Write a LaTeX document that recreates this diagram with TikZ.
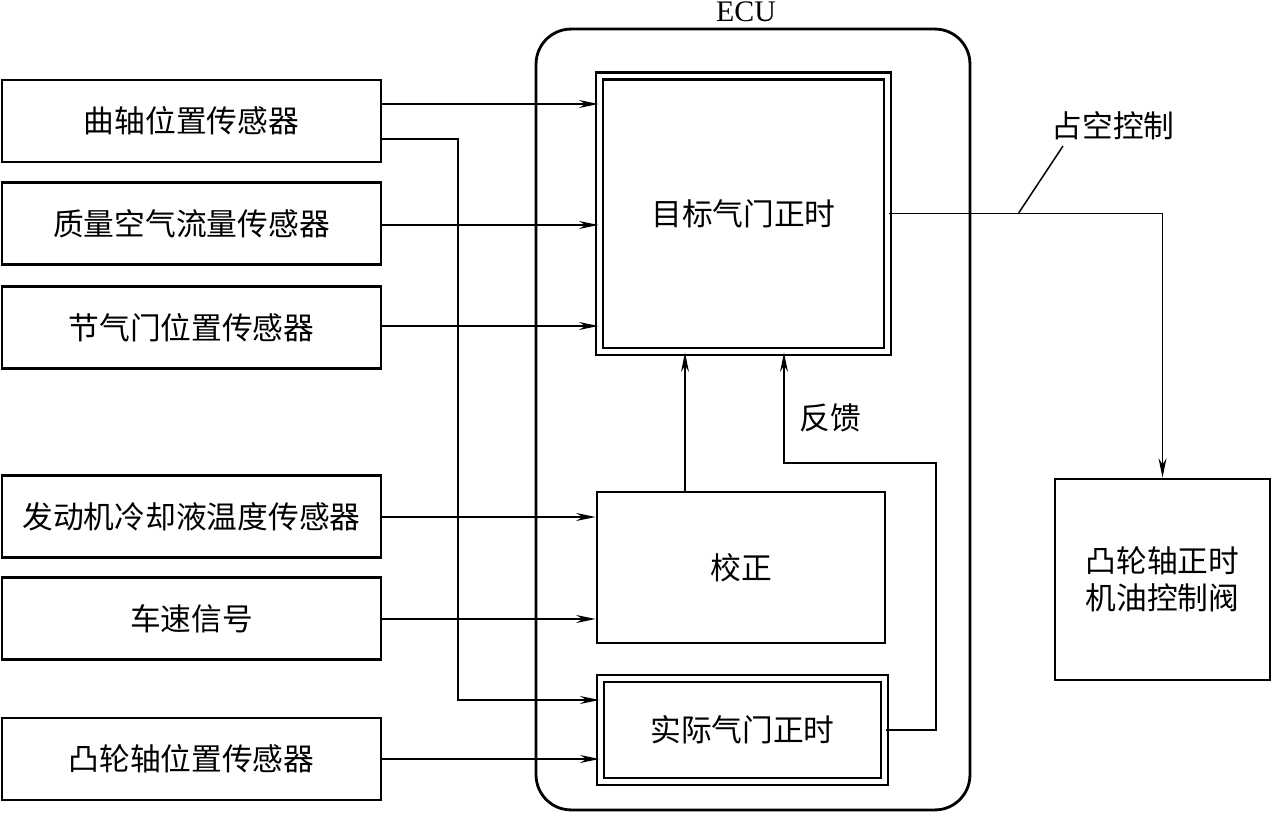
\documentclass[tikz,border=0pt]{standalone}
\usepackage{fontspec}
\newfontfamily\cjk{Noto Sans CJK SC}
\newfontfamily\serif{Liberation Serif}
\usetikzlibrary{arrows.meta}
\tikzset{
	sensor/.style={draw, line width=1.6pt, minimum width=7.58cm, minimum height=1.64cm, font=\cjk\fontsize{17.5}{21}\selectfont},
	unit/.style={draw, line width=1.6pt, font=\cjk\fontsize{17.5}{21}\selectfont, align=center},
	dbl/.style={unit, line width=1.3pt, double, double distance=2.7pt},
	sig/.style={->, line width=0.85pt}
}
\begin{document}
\begin{tikzpicture}[x=0.02cm, y=-0.02cm, >={Stealth[length=11pt,width=4.5pt]}]
		\useasboundingbox (0,0) rectangle (1272,813);
		% ECU
		\node[draw, line width=1.6pt, rounded corners=0.7cm, minimum width=8.68cm, minimum height=15.62cm] (ecu) at (753,419.5) {};
		\node[font=\serif\fontsize{17}{19}\selectfont] (ecul) at (746,12) {ECU};
		
		\node[sensor] (s1) at (191.5,121) {曲轴位置传感器};
		\node[sensor] (s2) at (191.5,223.5) {质量空气流量传感器};
		\node[sensor] (s3) at (191.5,327.5) {节气门位置传感器};
		\node[sensor] (s4) at (191.5,516.5) {发动机冷却液温度传感器};
		\node[sensor] (s5) at (191.5,618.5) {车速信号};
		\node[sensor] (s6) at (191.5,759) {凸轮轴位置传感器};
		
		\node[dbl, minimum width=5.76cm, minimum height=5.51cm] (tgt) at (743.5,213.75) {目标气门正时};
		\node[unit, minimum width=5.76cm, minimum height=3.02cm] (cor) at (741,567.5) {校正};
		\node[dbl, minimum width=5.68cm, minimum height=2.06cm] (act) at (742.5,730) {实际气门正时};
		\node[unit, minimum width=4.3cm, minimum height=4.02cm] (valve) at (1162.5,579.5) {凸轮轴正时\\机油控制阀};
		
		% inputs
		\draw[sig] (s1.east |- 0,104) -- (tgt.west |- 0,104);
		\draw[sig] (s2.east |- 0,225) -- (tgt.west |- 0,225);
		\draw[sig] (s3.east |- 0,326) -- (tgt.west |- 0,326);
		\draw[sig] (s4.east |- 0,517) -- (cor.west |- 0,517);
		\draw[sig] (s5.east |- 0,619) -- (cor.west |- 0,619);
		\draw[sig] (s6.east |- 0,759) -- (act.west |- 0,759);
		\draw[sig] (s1.east |- 0,139) -| (458,700) -- (act.west |- 0,700);
		
		% inside ECU
		\draw[sig] (cor.north -| 685,0) -- (tgt.south -| 685,0);
		\draw[sig] (act.east) -| (936,463) -| (tgt.south -| 784,0);
		\node[font=\cjk\fontsize{17.5}{21}\selectfont] (fb) at (830,418) {反馈};
		
		% output
		\draw[sig] (tgt.east) -| (valve.north);
		\draw[line width=0.85pt] (1018,214) -- (1063,146);
		\node[font=\cjk\fontsize{17.5}{21}\selectfont] (duty) at (1113,126) {占空控制};
	\end{tikzpicture}
\end{document}
